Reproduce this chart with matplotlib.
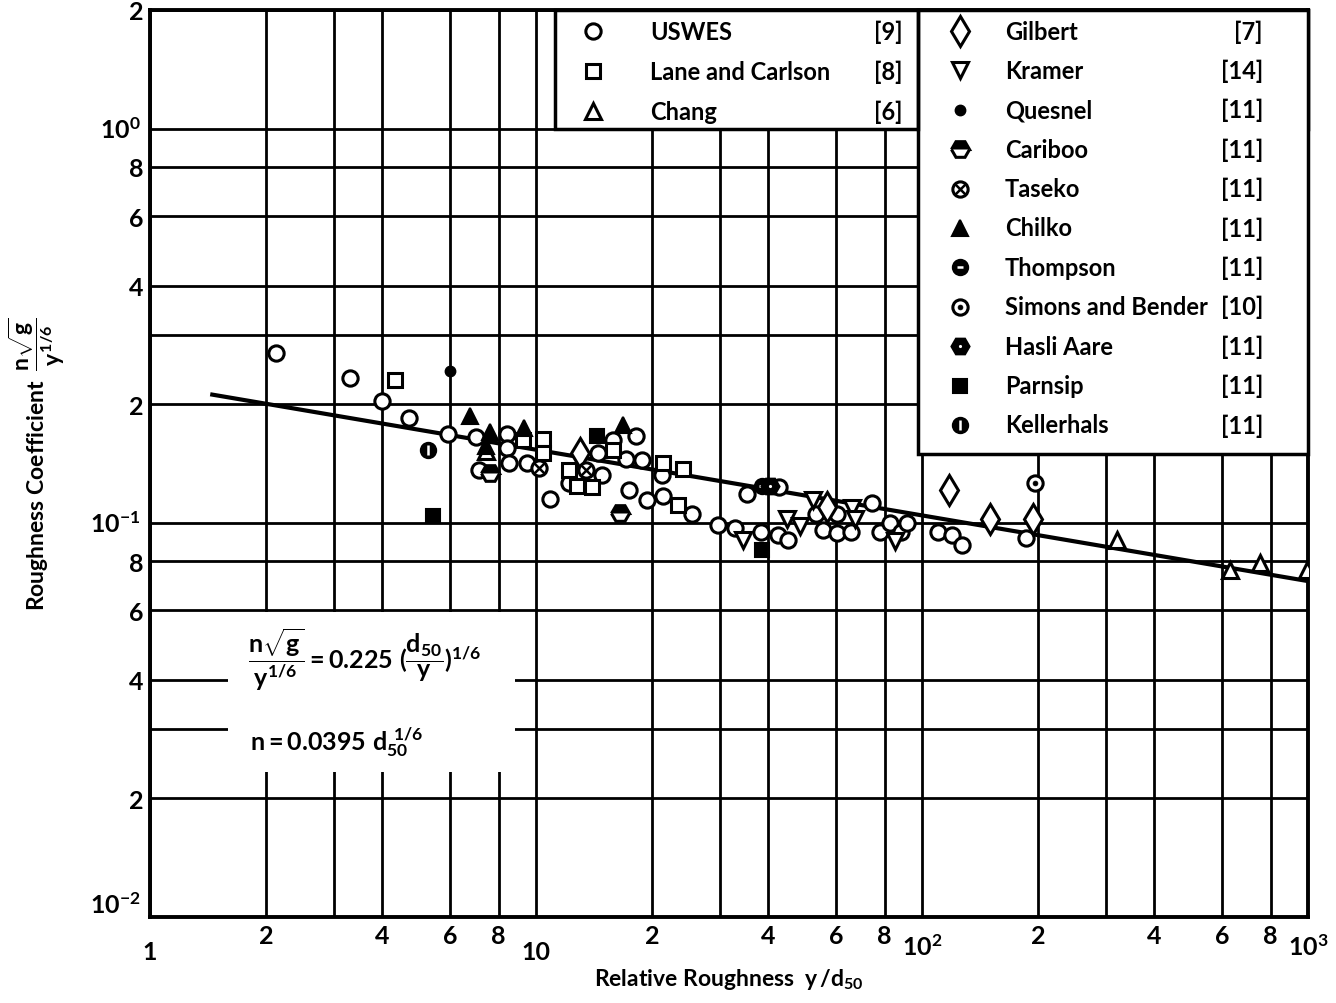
import matplotlib.pyplot as plt
from matplotlib.patches import Rectangle
import numpy as np

plt.rcParams['font.family'] = ['Lato', 'DejaVu Sans']
plt.rcParams['font.weight'] = 'bold'
plt.rcParams['axes.labelweight'] = 'bold'
plt.rcParams['mathtext.fontset'] = 'custom'
plt.rcParams['mathtext.rm'] = 'Lato:bold'
plt.rcParams['mathtext.it'] = 'Lato:bold'
plt.rcParams['mathtext.bf'] = 'Lato:bold'

# ---- data (x = y/d50, y = n*sqrt(g)/y^(1/6)) ----
uswes_x = [2.12, 3.3, 4.0, 4.7, 5.9, 7.0, 7.1, 8.4, 8.4, 8.5, 9.5, 10.9, 12.2, 14.5, 14.8,
           15.8, 17.1, 17.4, 18.2, 18.8, 19.4, 21.2, 21.3, 25.4, 29.6, 32.8, 35.2, 38.3, 42.4,
           42.6, 45.0, 53.1, 55.4, 60.2, 60.2, 65.6, 74.2, 77.8, 82.6, 88.2, 91.4, 110, 119.6,
           127, 186]
uswes_y = [0.27, 0.233, 0.204, 0.184, 0.168, 0.165, 0.136, 0.168, 0.155, 0.142, 0.142, 0.115,
           0.126, 0.150, 0.132, 0.162, 0.145, 0.121, 0.166, 0.144, 0.114, 0.132, 0.117, 0.105,
           0.099, 0.097, 0.118, 0.095, 0.093, 0.123, 0.0905, 0.105, 0.096, 0.105, 0.094, 0.095,
           0.112, 0.095, 0.100, 0.095, 0.100, 0.095, 0.093, 0.088, 0.0916]
lane_x = [4.3, 9.25, 10.4, 10.4, 12.2, 12.8, 14.0, 15.8, 21.3, 23.3, 24.0]
lane_y = [0.231, 0.162, 0.163, 0.150, 0.136, 0.124, 0.123, 0.153, 0.142, 0.111, 0.137]
chang_x = [7.4, 320, 628, 751, 995]
chang_y = [0.152, 0.0905, 0.076, 0.079, 0.076]
gilbert_x = [13.0, 56.7, 117.5, 150, 194]
gilbert_y = [0.150, 0.110, 0.121, 0.102, 0.102]
kramer_x = [34.4, 44.8, 48.3, 52.2, 65.9, 67.0, 85.1]
kramer_y = [0.0905, 0.102, 0.098, 0.114, 0.109, 0.102, 0.090]
quesnel_x = [6.0]
quesnel_y = [0.243]
cariboo_x = [7.6, 16.5]
cariboo_y = [0.134, 0.106]
taseko_x = [10.2, 13.5]
taseko_y = [0.138, 0.136]
chilko_x = [6.75, 7.4, 7.6, 9.3, 16.8]
chilko_y = [0.187, 0.157, 0.170, 0.174, 0.177]
thompson_x = [38.5]
thompson_y = [0.124]
simons_x = [196]
simons_y = [0.126]
hasli_x = [40.5]
hasli_y = [0.124]
parnsip_x = [5.4, 14.4, 38.5]
parnsip_y = [0.104, 0.166, 0.0854]
keller_x = [5.25]
keller_y = [0.153]

# fitted line n*sqrt(g)/y^(1/6) = 0.225 (d50/y)^(1/6)
fit_coef = 0.225
fit_x = np.array([1.45, 1000.0])

left_names = ['USWES', 'Lane and Carlson', 'Chang']
left_refs = ['[9]', '[8]', '[6]']
right_names = ['Gilbert', 'Kramer', 'Quesnel', 'Cariboo', 'Taseko', 'Chilko', 'Thompson',
               'Simons and Bender', 'Hasli Aare', 'Parnsip', 'Kellerhals']
right_refs = ['[7]', '[14]', '[11]', '[11]', '[11]', '[11]', '[11]', '[10]', '[11]', '[11]', '[11]']

# marker looks, one list of layers per source
W = 'white'
K = 'black'
styles = {
    'USWES': [dict(marker='o', ms=11, mfc=W, mec=K, mew=2.2)],
    'Lane and Carlson': [dict(marker='s', ms=10.5, mfc=W, mec=K, mew=2.2)],
    'Chang': [dict(marker='^', ms=12, mfc=W, mec=K, mew=2.2)],
    'Gilbert': [dict(marker='d', ms=15, mfc=W, mec=K, mew=2.2)],
    'Kramer': [dict(marker='v', ms=12, mfc=W, mec=K, mew=2.2)],
    'Quesnel': [dict(marker='o', ms=7.5, mfc=K, mec=K, mew=1)],
    'Cariboo': [dict(marker='H', ms=13, fillstyle='top', mfc=K, mfcalt=W, mec=K, mew=2.2)],
    'Taseko': [dict(marker='o', ms=11, mfc=W, mec=K, mew=2.2),
               dict(marker='x', ms=6.5, mec=K, mew=1.8)],
    'Chilko': [dict(marker='^', ms=12, mfc=K, mec=K, mew=1.5)],
    'Thompson': [dict(marker='o', ms=11, mfc=K, mec=K, mew=1.5),
                 dict(marker='_', ms=4, mec=W, mew=1.8)],
    'Simons and Bender': [dict(marker='o', ms=11, mfc=W, mec=K, mew=2.2),
                          dict(marker='o', ms=3.5, mfc=K, mec=K, mew=0.5)],
    'Hasli Aare': [dict(marker='H', ms=13, mfc=K, mec=K, mew=1.5),
                   dict(marker='.', ms=2.5, mfc=W, mec=W)],
    'Parnsip': [dict(marker='s', ms=10.5, mfc=K, mec=K, mew=1.5)],
    'Kellerhals': [dict(marker='o', ms=11, mfc=K, mec=K, mew=1.5),
                   dict(marker='|', ms=6.5, mec=W, mew=1.8)],
}


def draw(a, xs, ys, name):
    for kw in styles[name]:
        a.plot(xs, ys, ls='none', zorder=4, clip_on=True, **kw)


fig = plt.figure(figsize=(13.36, 10.04), dpi=100)
ax = fig.add_axes([150 / 1336, 1 - 918 / 1004, 1158 / 1336, 907 / 1004])
ax.set_xscale('log')
ax.set_yscale('log')
ax.set_xlim(1, 1000)
ax.set_ylim(0.01, 2)

# grid at 1,2,3,4,6,8 of every decade, labels only on 2,4,6,8
xt, xl = [], []
for k in range(3):
    for m in (1, 2, 3, 4, 6, 8):
        xt.append(m * 10 ** k)
        xl.append(str(m) if m in (2, 4, 6, 8) else '')
ax.set_xticks(xt)
ax.set_xticklabels(xl)
yt, yl = [], []
for k in (-2, -1, 0):
    for m in (1, 2, 3, 4, 6, 8):
        if k == 0 and m > 2:
            continue
        yt.append(m * 10.0 ** k)
        yl.append(str(m) if m in (2, 4, 6, 8) else '')
ax.set_yticks(yt)
ax.set_yticklabels(yl)
ax.minorticks_off()
ax.tick_params(length=0, labelsize=18, pad=5)
ax.grid(True, color='black', linewidth=2.0)
for s in ax.spines.values():
    s.set_linewidth(2.8)

# decade labels, set lower / left like the original
xtr = ax.get_xaxis_transform()
ax.text(1, -0.038, '1', transform=xtr, ha='center', va='center', fontsize=18)
ax.text(10, -0.038, '10', transform=xtr, ha='center', va='center', fontsize=18)
ax.text(100, -0.032, '$10^2$', transform=xtr, ha='center', va='center', fontsize=18)
ax.text(1000, -0.032, '$10^3$', transform=xtr, ha='center', va='center', fontsize=18)
ytr = ax.get_yaxis_transform()
ax.text(-0.008, 0.01, '$10^{-2}$', transform=ytr, ha='right', va='bottom', fontsize=18)
ax.text(-0.008, 0.1, '$10^{-1}$', transform=ytr, ha='right', va='center', fontsize=18)
ax.text(-0.008, 1.0, '$10^{0}$', transform=ytr, ha='right', va='center', fontsize=18)

ax.plot(fit_x, fit_coef * fit_x ** (-1 / 6), color='black', linewidth=3.0, zorder=3)

draw(ax, uswes_x, uswes_y, 'USWES')
draw(ax, lane_x, lane_y, 'Lane and Carlson')
draw(ax, chang_x, chang_y, 'Chang')
draw(ax, gilbert_x, gilbert_y, 'Gilbert')
draw(ax, kramer_x, kramer_y, 'Kramer')
draw(ax, quesnel_x, quesnel_y, 'Quesnel')
draw(ax, cariboo_x, cariboo_y, 'Cariboo')
draw(ax, taseko_x, taseko_y, 'Taseko')
draw(ax, chilko_x, chilko_y, 'Chilko')
draw(ax, thompson_x, thompson_y, 'Thompson')
draw(ax, simons_x, simons_y, 'Simons and Bender')
draw(ax, hasli_x, hasli_y, 'Hasli Aare')
draw(ax, parnsip_x, parnsip_y, 'Parnsip')
draw(ax, keller_x, keller_y, 'Kellerhals')

ax.set_xlabel(r'Relative Roughness  $y\,/d_{50}$', fontsize=16.5, labelpad=14)
ax.set_ylabel(r'Roughness Coefficient  $\dfrac{n\sqrt{g}}{y^{1/6}}$', fontsize=16.5,
              labelpad=44)

# overlay in pixel units for the legend boxes and the equation
ov = fig.add_axes([0, 0, 1, 1])
ov.set_xlim(0, 1336)
ov.set_ylim(1004, 0)
ov.axis('off')
ov.patch.set_alpha(0)

ov.add_patch(Rectangle((555, 11), 753, 119, facecolor='white', edgecolor='black', lw=2.5))
ov.add_patch(Rectangle((918, 11), 390, 444, facecolor='white', edgecolor='black', lw=2.5))
ov.add_patch(Rectangle((228, 613), 287, 160, facecolor='white', edgecolor='none'))
ov.plot([918, 918], [11, 130], color='black', lw=2.5)

for i, (nm, rf) in enumerate(zip(left_names, left_refs)):
    yy = 32 + i * 40
    draw(ov, [593], [yy], nm)
    ov.text(650, yy, nm, ha='left', va='center', fontsize=17)
    ov.text(903, yy, rf, ha='right', va='center', fontsize=17)
for i, (nm, rf) in enumerate(zip(right_names, right_refs)):
    yy = 32 + i * 39.4
    draw(ov, [960], [yy], nm)
    ov.text(1005, yy, nm, ha='left', va='center', fontsize=17)
    ov.text(1263, yy, rf, ha='right', va='center', fontsize=17)

ov.text(248, 660, r'$\dfrac{n\sqrt{g}}{y^{1/6}} = 0.225\ (\dfrac{d_{50}}{y})^{1/6}$',
        ha='left', va='center', fontsize=18)
ov.text(250, 742, r'$n = 0.0395\ d_{50}^{\ 1/6}$', ha='left', va='center', fontsize=18)

fig.savefig('out.png', dpi=100)
